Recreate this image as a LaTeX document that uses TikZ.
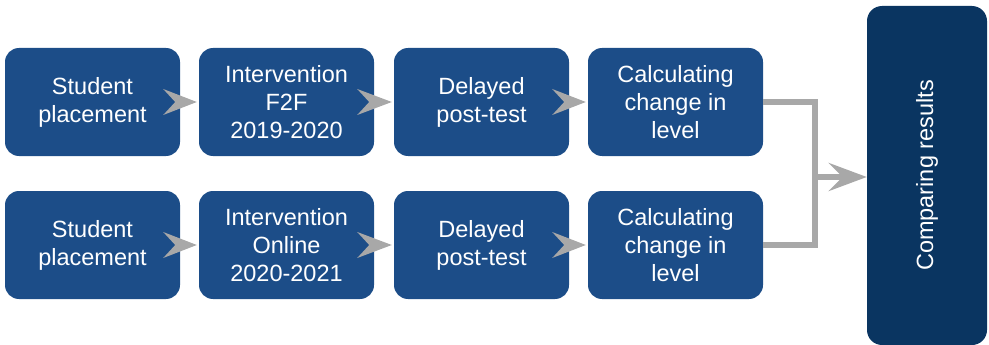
\documentclass[tikz,border=0pt]{standalone}
\usepackage{fontspec}
\setmainfont{Liberation Sans}
\usetikzlibrary{arrows.meta,calc}
\definecolor{boxblue}{HTML}{1C4D88}
\definecolor{darkblue}{HTML}{0A3561}
\definecolor{arrowgray}{HTML}{A8A8A8}
\begin{document}
\begin{tikzpicture}[x=1pt,y=-1pt,
  stepbox/.style={fill=boxblue, rounded corners=14pt, minimum width=175pt, minimum height=108pt,
    text=white, align=center, font=\fontsize{23.5}{28}\selectfont, inner sep=0pt},
  resbox/.style={fill=darkblue, rounded corners=15pt, minimum width=120pt, minimum height=339pt,
    inner sep=0pt},
  chev/.style={fill=arrowgray},
  gline/.style={draw=arrowgray, line width=6pt}]
\useasboundingbox (0,0) rectangle (989,345);
% top row
\node[stepbox] (a1) at (92.5,102) {Student\\placement};
\node[stepbox] (b1) at (286.5,102) {Intervention\\F2F\\2019-2020};
\node[stepbox] (c1) at (481.5,102) {Delayed\\post-test};
\node[stepbox] (d1) at (675.5,102) {Calculating\\change in\\level};
% bottom row
\node[stepbox] (a2) at (92.5,245) {Student\\placement};
\node[stepbox] (b2) at (286.5,245) {Intervention\\Online\\2020-2021};
\node[stepbox] (c2) at (481.5,245) {Delayed\\post-test};
\node[stepbox] (d2) at (675.5,245) {Calculating\\change in\\level};
% result
\node[resbox] (r) at (927,175.5) {};
\node[text=white, rotate=90, font=\fontsize{23.5}{28}\selectfont] (rt) at (r.center) {Comparing results};
% chevrons
\foreach \p/\q in {a1/b1,b1/c1,c1/d1,a2/b2,b2/c2,c2/d2}{
  \fill[chev] ($(\p.east)+(-17,-13)$) -- ($(\q.west)+(-2,0)$) -- ($(\p.east)+(-17,13)$) -- ($(\p.east)+(-5,0)$) -- cycle;
}
% merge connector
\coordinate (J) at (815,177);
\draw[gline, line join=miter] (d1.east) -| (J) |- (d2.east);
\draw[gline, -{Stealth[length=38pt,width=28pt,inset=14pt]}] (J) -- (r.west |- J);
\end{tikzpicture}
\end{document}
